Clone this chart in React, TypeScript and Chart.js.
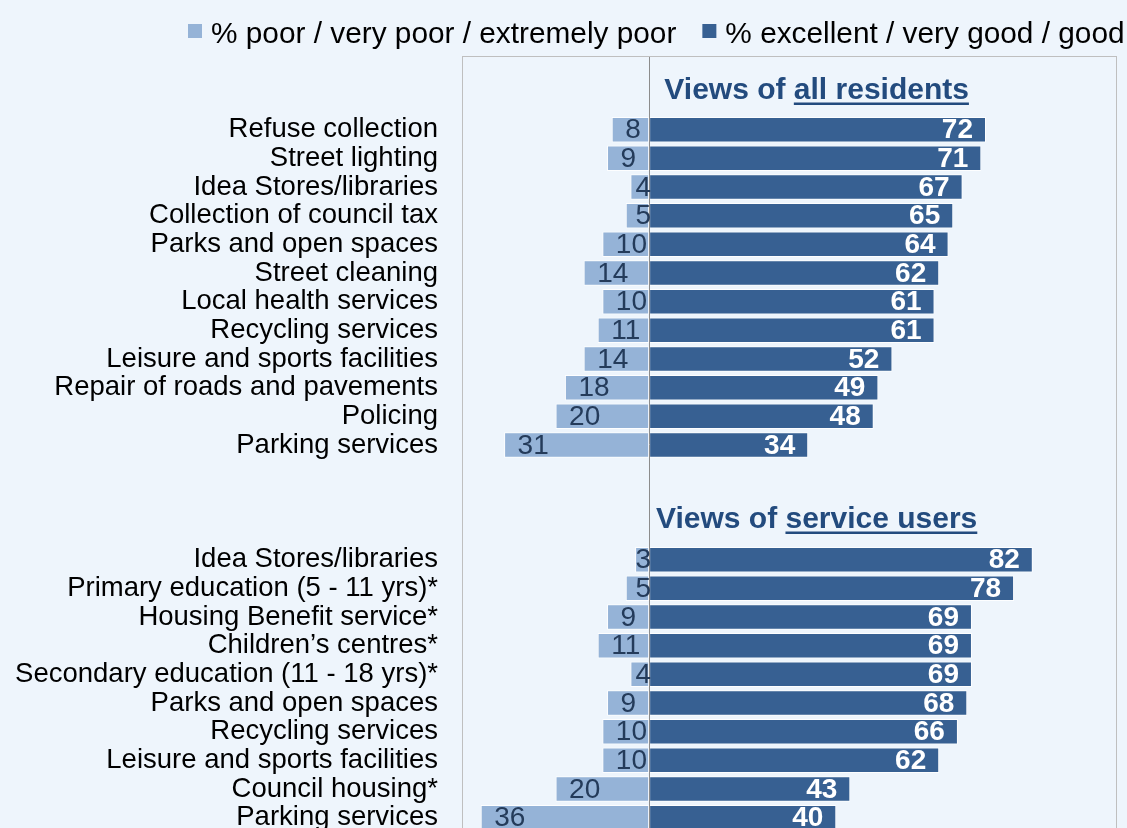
import React, { useEffect, useRef } from "react";
import { Chart, registerables } from "chart.js";

Chart.register(...registerables);

// ---- Data ----
const RESIDENT_SERVICES = [
  "Refuse collection",
  "Street lighting",
  "Idea Stores/libraries",
  "Collection of council tax",
  "Parks and open spaces",
  "Street cleaning",
  "Local health services",
  "Recycling services",
  "Leisure and sports facilities",
  "Repair of roads and pavements",
  "Policing",
  "Parking services",
];
const RESIDENT_POOR = [8, 9, 4, 5, 10, 14, 10, 11, 14, 18, 20, 31];
const RESIDENT_GOOD = [72, 71, 67, 65, 64, 62, 61, 61, 52, 49, 48, 34];

const USER_SERVICES = [
  "Idea Stores/libraries",
  "Primary education (5 - 11 yrs)*",
  "Housing Benefit service*",
  "Children\u2019s centres*",
  "Secondary education (11 - 18 yrs)*",
  "Parks and open spaces",
  "Recycling services",
  "Leisure and sports facilities",
  "Council housing*",
  "Parking services",
];
const USER_POOR = [3, 5, 9, 11, 4, 9, 10, 10, 20, 36];
const USER_GOOD = [82, 78, 69, 69, 69, 68, 66, 62, 43, 40];

const SERIES_NAMES = [
  "% poor / very poor / extremely poor",
  "% excellent / very good / good",
];
const GROUP_TITLES = [
  ["Views of ", "all residents"],
  ["Views of ", "service users"],
];
const X_MIN = -40;
const X_MAX = 100;

// ---- Style constants ----
const BG = "#EEF5FC";
const POOR_COLOR = "#95B3D7";
const GOOD_COLOR = "#376092";
const TITLE_COLOR = "#234B7E";
const FONT = "'Liberation Sans', Arial, sans-serif";
const TITLE_CENTER_VALUE = 35.8;
const LEAD_BLANK = 2;
const GAP_BLANK = 3;

// Build rows
const blanks = (n: number) => Array.from({ length: n }, () => null as any);
const labels: string[] = [
  ...blanks(LEAD_BLANK).map(() => ""),
  ...RESIDENT_SERVICES,
  ...blanks(GAP_BLANK).map(() => ""),
  ...USER_SERVICES,
];
const poorData: (number | null)[] = [
  ...blanks(LEAD_BLANK),
  ...RESIDENT_POOR.map((v) => -v),
  ...blanks(GAP_BLANK),
  ...USER_POOR.map((v) => -v),
];
const goodData: (number | null)[] = [
  ...blanks(LEAD_BLANK),
  ...RESIDENT_GOOD,
  ...blanks(GAP_BLANK),
  ...USER_GOOD,
];
const GROUP_FIRST_INDEX = [LEAD_BLANK, LEAD_BLANK + RESIDENT_SERVICES.length + GAP_BLANK];

const decorPlugin = {
  id: "decor",
  beforeDraw(chart: any) {
    const { ctx } = chart;
    ctx.save();
    ctx.fillStyle = BG;
    ctx.fillRect(0, 0, chart.width, chart.height);
    ctx.restore();
  },
  afterDatasetsDraw(chart: any) {
    const { ctx, chartArea: a, scales } = chart;
    const xs = scales.x;
    const ys = scales.y;
    ctx.save();
    // plot border
    ctx.strokeStyle = "#BFBFBF";
    ctx.lineWidth = 1;
    ctx.strokeRect(Math.round(a.left) + 0.5, Math.round(a.top) - 1.5, Math.round(a.right - a.left) - 1, Math.round(a.bottom - a.top) + 20);
    // zero line
    const zx = xs.getPixelForValue(0);
    ctx.strokeStyle = "#8C8C8C";
    ctx.beginPath();
    ctx.moveTo(Math.round(zx) + 0.5, a.top - 1);
    ctx.lineTo(Math.round(zx) + 0.5, a.bottom);
    ctx.stroke();

    // data labels
    ctx.textBaseline = "middle";
    chart.data.datasets.forEach((ds: any, di: number) => {
      const meta = chart.getDatasetMeta(di);
      meta.data.forEach((el: any, i: number) => {
        const v = ds.data[i];
        if (v === null || v === undefined) return;
        const txt = String(Math.abs(v));
        if (v < 0) {
          ctx.font = `28px ${FONT}`;
          ctx.fillStyle = "#243B5A";
          ctx.textAlign = "left";
          const w = ctx.measureText(txt).width;
          const x = Math.min(el.x + 13.5, zx + 2 - w);
          ctx.fillText(txt, x, el.y + 1);
        } else {
          ctx.font = `bold 28px ${FONT}`;
          ctx.fillStyle = "#FFFFFF";
          ctx.textAlign = "right";
          ctx.fillText(txt, el.x - 13, el.y + 1);
        }
      });
    });

    // group titles
    const pitch = ys.getPixelForValue(1) - ys.getPixelForValue(0);
    const cx = xs.getPixelForValue(TITLE_CENTER_VALUE);
    ctx.font = `bold 30px ${FONT}`;
    ctx.fillStyle = TITLE_COLOR;
    ctx.strokeStyle = TITLE_COLOR;
    ctx.textAlign = "left";
    ctx.textBaseline = "alphabetic";
    GROUP_TITLES.forEach((parts, gi) => {
      const yMid = ys.getPixelForValue(GROUP_FIRST_INDEX[gi]) - 1.5 * pitch;
      const base = yMid + 11.5 + (gi === 0 ? 1 : 0);
      const w0 = ctx.measureText(parts[0]).width;
      const w1 = ctx.measureText(parts[1]).width;
      const x0 = cx - (w0 + w1) / 2;
      ctx.fillText(parts[0], x0, base);
      ctx.fillText(parts[1], x0 + w0, base);
      ctx.lineWidth = 2.6;
      ctx.beginPath();
      ctx.moveTo(x0 + w0, base + 4.6);
      ctx.lineTo(x0 + w0 + w1, base + 4.6);
      ctx.stroke();
    });

    // legend
    ctx.font = `29.8px ${FONT}`;
    ctx.textBaseline = "middle";
    ctx.textAlign = "left";
    let lx = 188;
    const ly = 31;
    chart.data.datasets.forEach((ds: any) => {
      ctx.fillStyle = ds.backgroundColor;
      ctx.fillRect(lx, ly - 7, 14, 14);
      ctx.fillStyle = "#000000";
      const tx = lx + 14 + 9;
      ctx.fillText(ds.label, tx, ly + 3.5);
      lx = tx + ctx.measureText(ds.label).width + 26;
    });
    ctx.restore();
  },
};

export default function App() {
  const ref = useRef<HTMLCanvasElement | null>(null);
  useEffect(() => {
    if (!ref.current) return;
    const chart = new Chart(ref.current, {
      type: "bar",
      data: {
        labels,
        datasets: [
          {
            label: SERIES_NAMES[0],
            data: poorData,
            backgroundColor: POOR_COLOR,
            borderColor: "rgba(255,255,255,0.85)",
            borderWidth: 1,
            borderSkipped: false,
            barPercentage: 0.89,
            categoryPercentage: 1.0,
          },
          {
            label: SERIES_NAMES[1],
            data: goodData,
            backgroundColor: GOOD_COLOR,
            borderColor: "rgba(255,255,255,0.85)",
            borderWidth: 1,
            borderSkipped: false,
            barPercentage: 0.89,
            categoryPercentage: 1.0,
          },
        ],
      },
      options: {
        indexAxis: "y",
        responsive: false,
        animation: false,
        devicePixelRatio: 1,
        layout: { padding: { top: 58, right: 10, bottom: 8, left: 0 } },
        plugins: {
          legend: { display: false },
          tooltip: { enabled: false },
          title: { display: false },
        },
        scales: {
          x: {
            type: "linear",
            min: X_MIN,
            max: X_MAX,
            stacked: true,
            display: false,
          },
          y: {
            type: "category",
            stacked: true,
            grid: { display: false, drawTicks: false },
            border: { display: false },
            ticks: {
              autoSkip: false,
              padding: 24,
              color: "#000000",
              font: { family: FONT, size: 27.5 },
            },
            afterFit: (s: any) => {
              s.width = 462;
              s.paddingTop = 0;
              s.paddingBottom = 0;
            },
          },
        },
      },
      plugins: [decorPlugin],
    } as any);
    return () => chart.destroy();
  }, []);

  return (
    <div
      style={{
        position: "fixed",
        left: 0,
        top: 0,
        width: 1127,
        height: 828,
        overflow: "hidden",
        background: BG,
      }}
    >
      <canvas
        ref={ref}
        width={1127}
        height={840}
        style={{ width: "1127px", height: "840px", display: "block" }}
      />
    </div>
  );
}
